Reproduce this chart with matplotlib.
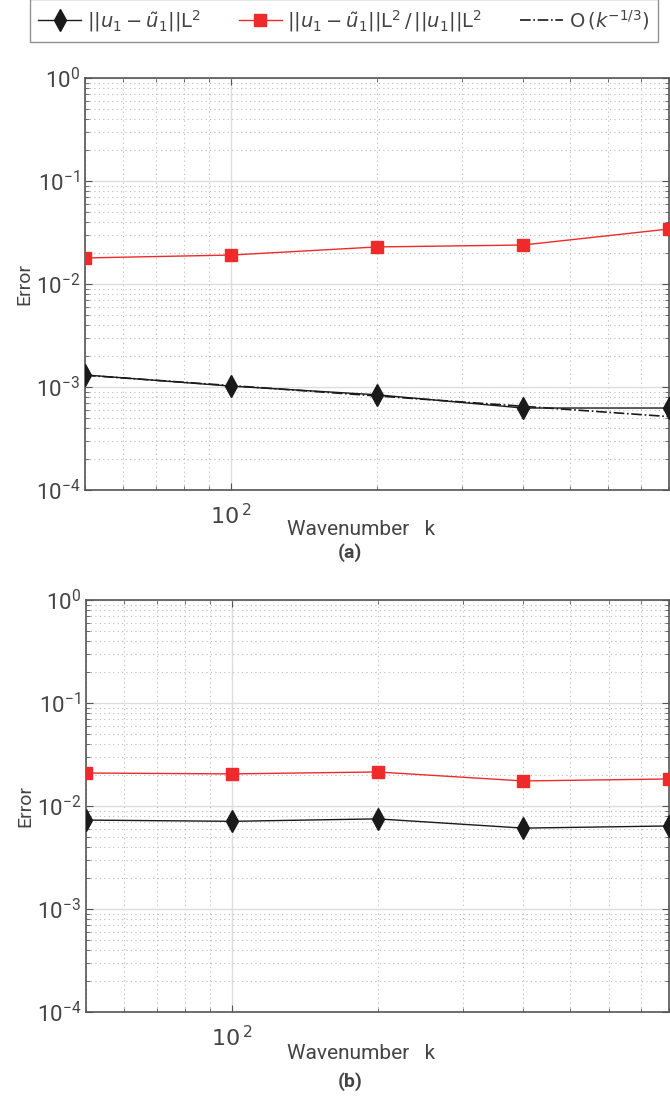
import matplotlib
matplotlib.use("Agg")
import matplotlib.pyplot as plt
import numpy as np

k = [50, 100, 200, 400, 800]

# panel (a)
err_a = [1.31e-3, 1.02e-3, 8.4e-4, 6.25e-4, 6.25e-4]
rel_a = [0.0179, 0.0191, 0.0229, 0.0239, 0.0342]
# panel (b)
err_b = [7.3e-3, 7.1e-3, 7.5e-3, 6.1e-3, 6.4e-3]
rel_b = [0.0209, 0.0205, 0.0214, 0.0175, 0.0183]

ref_start = 1.3e-3
ref_rate = -1.0 / 3.0

plt.rcParams['font.family'] = ['Roboto', 'DejaVu Sans']
txt = '#444444'

fig = plt.figure(figsize=(6.7, 10.97), dpi=100)
ax_a = fig.add_axes([85 / 670, 1 - 490 / 1097, 584 / 670, 412 / 1097])
ax_b = fig.add_axes([86 / 670, 1 - 1012 / 1097, 583 / 670, 412 / 1097])

lab_err = r'$||u_1 - \tilde{u}_1||\mathrm{L}^2$'
lab_rel = r'$||u_1 - \tilde{u}_1||\mathrm{L}^2 \,/\, ||u_1||\mathrm{L}^2$'
lab_ref = r'$\mathrm{O}\,(k^{-1/3})$'

kk = np.array(k, dtype=float)
panels = [(ax_a, err_a, rel_a, '(a)', -0.097, -0.153),
          (ax_b, err_b, rel_b, '(b)', -0.100, -0.170)]
for ax, err, rel, tag, xl_y, tag_y in panels:
    ax.loglog(k, err, '-d', color='#1a1a1a', lw=1.0, ms=11, label=lab_err, zorder=4)
    ax.loglog(k, rel, '-s', color='#ee2a2a', mfc='#ee2a2a', mec='#ee2a2a', lw=1.0, ms=8,
              label=lab_rel, zorder=4)
    if tag == '(a)':
        ax.loglog(k, ref_start * (kk / kk[0]) ** ref_rate, '-.', color='#1a1a1a', lw=1.2,
                  label=lab_ref, zorder=3)
    ax.set_xlim(50, 800)
    ax.set_ylim(1e-4, 1)
    ax.grid(True, which='major', color='#dddddd', lw=1.0, ls='-')
    ax.grid(True, which='minor', color='#bbbbbb', lw=0.8, ls=(0, (1, 3)))
    ax.tick_params(which='both', direction='in', top=True, right=True, colors='#555555',
                   labelcolor=txt, labelsize=16)
    ax.tick_params(which='major', length=5)
    ax.tick_params(which='minor', length=3)
    ax.set_yticks([1e-4, 1e-3, 1e-2, 1e-1, 1])
    ax.set_xticks([100])
    ax.set_xticklabels([r'$10^{\,2}$'])
    ax.xaxis.set_minor_formatter(matplotlib.ticker.NullFormatter())
    ax.tick_params(axis='x', which='major', pad=10)
    for s in ax.spines.values():
        s.set_color('#555555')
        s.set_linewidth(1.2)
    ax.set_xlabel('Wavenumber   k', fontsize=15, color=txt)
    ax.xaxis.set_label_coords((361 - 85) / 584, xl_y)
    ax.xaxis.label.set_va('center')
    ax.set_ylabel('Error', fontsize=14, color=txt, labelpad=2)
    ax.text((350 - 85) / 584, tag_y, tag, transform=ax.transAxes, ha='center', va='center',
            fontsize=14, fontweight='bold', color=txt)

h, l = ax_a.get_legend_handles_labels()
fig.legend(h, l, loc='lower left', mode='expand',
           bbox_to_anchor=(20 / 670, 1 - 52 / 1097, 648 / 670, 40 / 1097), ncol=3,
           frameon=True, fancybox=False, edgecolor='#777777', fontsize=14,
           handlelength=2.2, handletextpad=0.3, columnspacing=1.0,
           borderpad=0.45, labelcolor=txt)

fig.savefig('out.png', dpi=100)
